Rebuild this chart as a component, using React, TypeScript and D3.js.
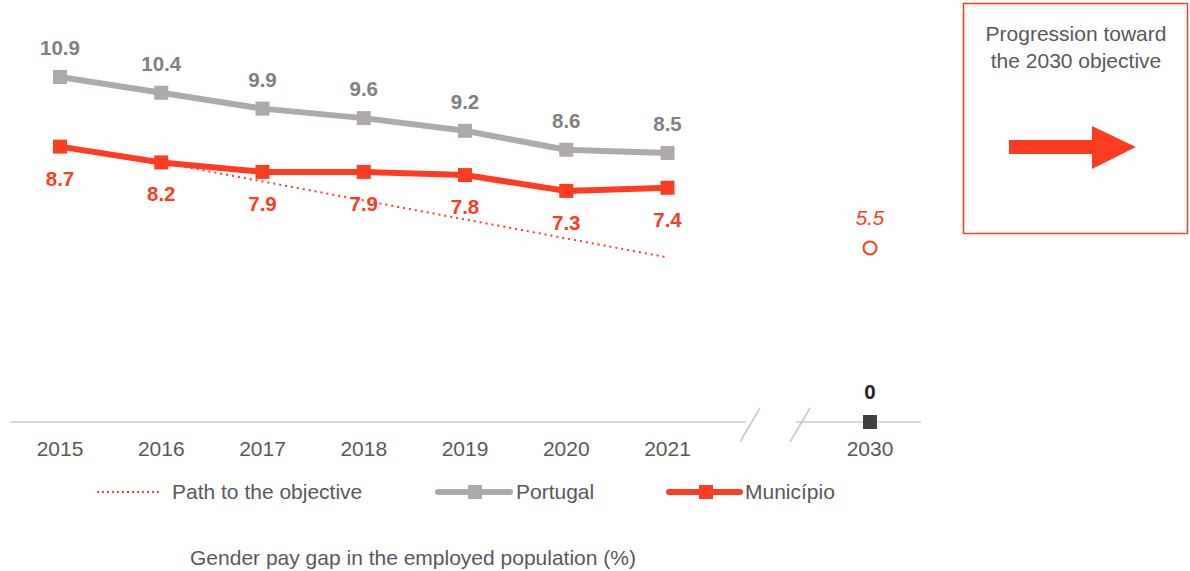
import * as d3 from 'd3'

const years = ['2015', '2016', '2017', '2018', '2019', '2020', '2021']
const slots = [...years, 'gap', '2030']
const portugal = [10.9, 10.4, 9.9, 9.6, 9.2, 8.6, 8.5]
const municipio = [8.7, 8.2, 7.9, 7.9, 7.8, 7.3, 7.4]
const pathToObjective: (number | null)[] = [null, 8.2, 7.6, 7.0, 6.4, 5.8, 5.2]
const objectiveMunicipio = 5.5
const objectivePortugal = 0

const W = 1190
const H = 571
const FONT = '"Liberation Sans", Arial, sans-serif'
const RED = '#ff3c22'
const GREY = '#aeaaaa'
const TEXT = '#595959'
const FS = 21

export default function App() {
  const x = d3.scalePoint<string>().domain(slots).range([60, 870])
  const y = d3.scaleLinear().domain([0, 11]).range([422, 73.8])
  const baseY = y(0)

  const line = d3
    .line<number>()
    .x((_, i) => x(years[i]) as number)
    .y((d) => y(d))

  const dotted = d3
    .line<number | null>()
    .defined((d) => d != null)
    .x((_, i) => x(years[i]) as number)
    .y((d) => y(d as number))

  const breakX = [750, 800]

  return (
    <svg
      width={W}
      height={H}
      style={{ position: 'absolute', left: 0, top: 0, fontFamily: FONT }}
    >
      {/* axis baseline with break */}
      <line x1={10} x2={746} y1={baseY} y2={baseY} stroke="#d9d9d9" strokeWidth={2} />
      <line x1={796} x2={921} y1={baseY} y2={baseY} stroke="#d9d9d9" strokeWidth={2} />
      {breakX.map((bx) => (
        <line key={bx} x1={bx - 10} y1={baseY + 20} x2={bx + 10} y2={baseY - 14} stroke="#c8c8c8" strokeWidth={1.5} />
      ))}

      {slots
        .filter((s) => s !== 'gap')
        .map((s) => (
          <text key={s} x={x(s)} y={baseY + 34} textAnchor="middle" fontSize={FS} fill={TEXT}>
            {s}
          </text>
        ))}

      {/* path to objective */}
      <path d={dotted(pathToObjective) ?? ''} fill="none" stroke={RED} strokeWidth={2} strokeDasharray="2 4" />

      {/* Portugal */}
      <path d={line(portugal) ?? ''} fill="none" stroke={GREY} strokeWidth={6} />
      {portugal.map((v, i) => (
        <g key={'p' + i}>
          <rect x={(x(years[i]) as number) - 7} y={y(v) - 7} width={14} height={14} fill={GREY} />
          <text x={x(years[i])} y={y(v) - 22} textAnchor="middle" fontSize={20.5} fontWeight="bold" fill="#808080">
            {v.toFixed(1)}
          </text>
        </g>
      ))}

      {/* Município */}
      <path d={line(municipio) ?? ''} fill="none" stroke={RED} strokeWidth={6} />
      {municipio.map((v, i) => (
        <g key={'m' + i}>
          <rect x={(x(years[i]) as number) - 7} y={y(v) - 7} width={14} height={14} fill={RED} />
          <text x={x(years[i])} y={y(v) + 39} textAnchor="middle" fontSize={20.5} fontWeight="bold" fill={RED}>
            {v.toFixed(1)}
          </text>
        </g>
      ))}

      {/* 2030 objectives */}
      <circle cx={x('2030')} cy={y(objectiveMunicipio)} r={6.5} fill="#fff" stroke={RED} strokeWidth={2} />
      <text x={x('2030')} y={y(objectiveMunicipio) - 23} textAnchor="middle" fontSize={20.5} fontStyle="italic" fill={RED}>
        {objectiveMunicipio.toFixed(1)}
      </text>
      <rect x={(x('2030') as number) - 7} y={y(objectivePortugal) - 7} width={14} height={14} fill="#404040" />
      <text x={x('2030')} y={y(objectivePortugal) - 23} textAnchor="middle" fontSize={20.5} fontWeight="bold" fill="#262626">
        {objectivePortugal}
      </text>

      {/* legend */}
      <g fontSize={FS} fill={TEXT}>
        <line x1={97} x2={160} y1={492} y2={492} stroke={RED} strokeWidth={2} strokeDasharray="2 3" />
        <text x={172} y={499}>Path to the objective</text>
        <line x1={438} x2={510} y1={492} y2={492} stroke={GREY} strokeWidth={6} strokeLinecap="round" />
        <rect x={468} y={485} width={14} height={14} fill={GREY} />
        <text x={516} y={499}>Portugal</text>
        <line x1={669} x2={740} y1={492} y2={492} stroke={RED} strokeWidth={6} strokeLinecap="round" />
        <rect x={699} y={485} width={14} height={14} fill={RED} />
        <text x={745} y={499}>Município</text>
      </g>

      <text x={413} y={565} textAnchor="middle" fontSize={FS} fill={TEXT}>
        Gender pay gap in the employed population (%)
      </text>

      {/* objective box */}
      <rect x={963.5} y={3.5} width={224} height={230} fill="none" stroke={RED} strokeWidth={1.5} />
      <text x={1076} y={41} textAnchor="middle" fontSize={FS} fill={TEXT}>
        Progression toward
      </text>
      <text x={1076} y={68} textAnchor="middle" fontSize={FS} fill={TEXT}>
        the 2030 objective
      </text>
      <path d="M1009,140 L1092,140 L1092,126 L1136,147 L1092,169 L1092,154 L1009,154 Z" fill={RED} />
    </svg>
  )
}
